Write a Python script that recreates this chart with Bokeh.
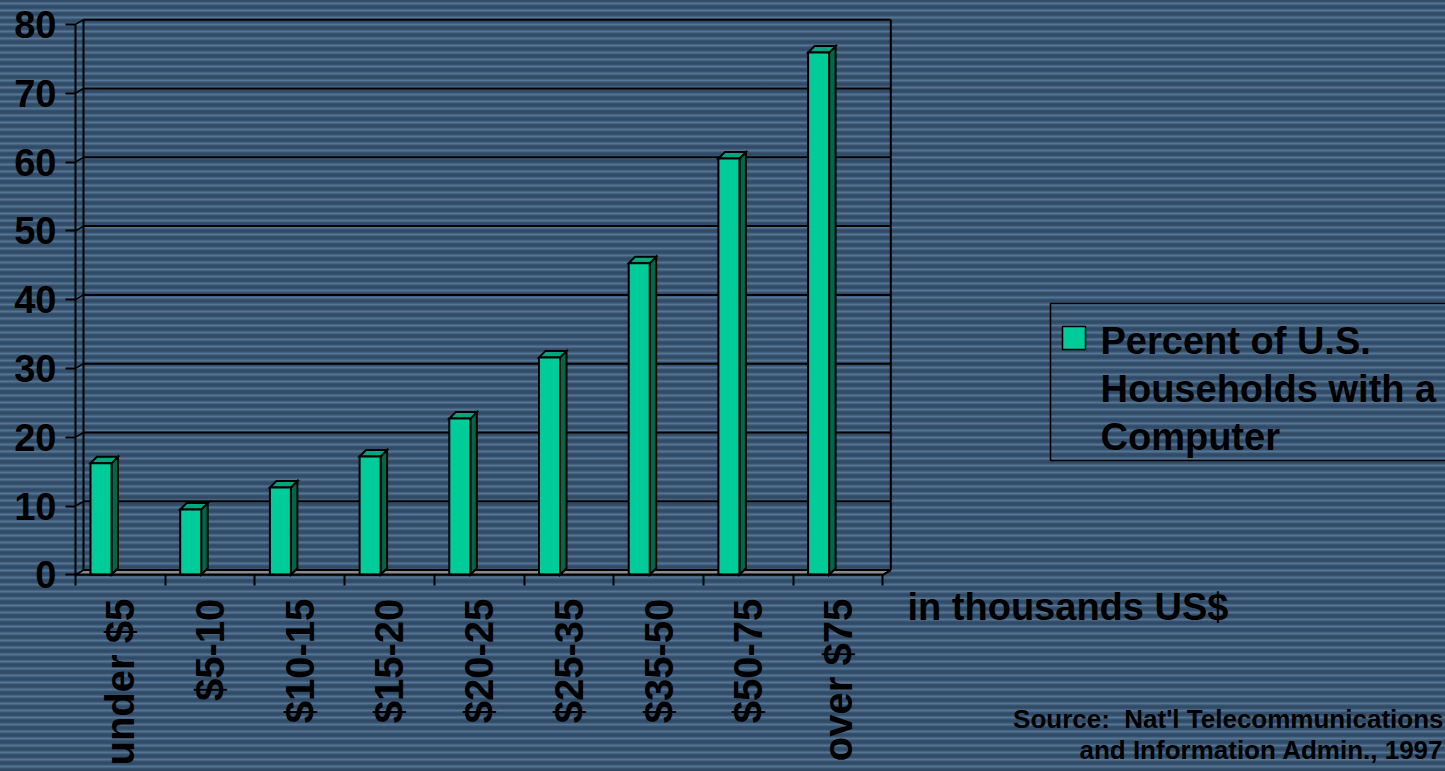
import math

from bokeh.core.properties import value
from bokeh.embed import file_html
from bokeh.models import FixedTicker, Range1d
from bokeh.plotting import figure
from bokeh.resources import INLINE

# ---- data -------------------------------------------------------------
categories = ["under $5", "$5-10", "$10-15", "$15-20", "$20-25",
              "$25-35", "$35-50", "$50-75", "over $75"]
percent_with_computer = [16.2, 9.5, 12.7, 17.2, 22.7, 31.6, 45.3, 60.5, 75.9]
y_ticks = [0, 10, 20, 30, 40, 50, 60, 70, 80]
series_lines = ["Percent of U.S.", "Households with a", "Computer"]
x_note = "in thousands US$"
source_lines = ["Source:\u00a0 Nat'l Telecommunications",
                "and Information Admin., 1997"]

# ---- layout constants (pixels) ---------------------------------------
W, H = 1445, 771
X0_PX, Y0_PX = 75.0, 574.3      # where the two axes cross
PX_PER_CAT = 89.7               # width of one income bracket
PX_PER_UNIT = 6.88              # pixels per percentage point

FONT = value("Liberation Sans")
FRONT, SIDE, TOP = "#00CC99", "#00664C", "#00A67D"


def gx(px):
    """page x pixel -> data x"""
    return (px - X0_PX) / PX_PER_CAT


def gy(py):
    """page y pixel (from top) -> data y"""
    return (Y0_PX - py) / PX_PER_UNIT


def baseline(py, size):
    """data y for a text whose baseline should sit at page pixel py"""
    return gy(py - 0.34 * size)


p = figure(width=W, height=H,
           x_range=Range1d(gx(0), gx(W)), y_range=Range1d(gy(H), gy(0)),
           min_border=0, toolbar_location=None, output_backend="svg")
p.grid.visible = False
p.outline_line_color = None
p.background_fill_alpha = 0
p.border_fill_alpha = 0
p.styles = {
    "background": "repeating-linear-gradient(180deg, #2e4862 0px, #36526e 1.5px, "
                  "#557594 3.5px, #36526e 5.5px, #2e4862 7px)"
}

n = len(categories)
top_val = y_ticks[-1]

# ---- 3-D wall and floor ------------------------------------------------
wdx, wdy = 8 / PX_PER_CAT, 4.7 / PX_PER_UNIT
p.patch([0, n, n + wdx, wdx], [0, 0, wdy, wdy],
        fill_color="#8C8C8C", line_color="black", line_width=1.5)
p.segment(x0=[wdx] * len(y_ticks), y0=[t + wdy for t in y_ticks],
          x1=[n + wdx] * len(y_ticks), y1=[t + wdy for t in y_ticks],
          line_color="black", line_width=2)
p.segment(x0=[0] * len(y_ticks), y0=y_ticks,
          x1=[wdx] * len(y_ticks), y1=[t + wdy for t in y_ticks],
          line_color="black", line_width=1.5)
p.segment(x0=[wdx, n + wdx, n], y0=[wdy, wdy, 0],
          x1=[wdx, n + wdx, n + wdx], y1=[top_val + wdy, top_val + wdy, wdy],
          line_color="black", line_width=2)

# ---- 3-D columns -------------------------------------------------------
bw = 21 / PX_PER_CAT
bdx, bdy = 6.5 / PX_PER_CAT, 6.5 / PX_PER_UNIT
lefts = [i + 15 / PX_PER_CAT for i in range(n)]
rights = [l + bw for l in lefts]

side_xs = [[r, r + bdx, r + bdx, r] for r in rights]
side_ys = [[0, bdy, v + bdy, v] for v in percent_with_computer]
top_xs = [[l, r, r + bdx, l + bdx] for l, r in zip(lefts, rights)]
top_ys = [[v, v, v + bdy, v + bdy] for v in percent_with_computer]

p.patches(side_xs, side_ys, fill_color=SIDE, line_color="black",
          line_width=2, line_join="miter")
p.patches(top_xs, top_ys, fill_color=TOP, line_color="black",
          line_width=2, line_join="miter")
p.quad(left=lefts, right=rights, bottom=0, top=percent_with_computer,
       fill_color=FRONT, line_color="black", line_width=2, line_join="miter")

# ---- axes --------------------------------------------------------------
yax = p.yaxis[0]
yax.fixed_location = 0
yax.bounds = (0, top_val)
yax.ticker = FixedTicker(ticks=y_ticks, minor_ticks=[])
yax.axis_line_width = 2
yax.major_tick_line_width = 2
yax.major_tick_out = 10
yax.major_tick_in = 0
yax.major_label_standoff = 9
yax.major_label_text_font = "Liberation Sans"
yax.major_label_text_font_style = "bold"
yax.major_label_text_font_size = "38px"
yax.major_label_text_color = "black"

xax = p.xaxis[0]
xax.fixed_location = 0
xax.bounds = (0, n)
xax.ticker = FixedTicker(ticks=[i + 0.5 for i in range(n)],
                         minor_ticks=list(range(n + 1)))
xax.major_label_overrides = {i + 0.5: c for i, c in enumerate(categories)}
xax.axis_line_width = 2
xax.major_tick_out = 0
xax.major_tick_in = 0
xax.minor_tick_out = 11
xax.minor_tick_in = 0
xax.minor_tick_line_width = 2
xax.major_label_orientation = math.pi / 2
xax.major_label_standoff = 13
xax.major_label_text_font = "Liberation Sans"
xax.major_label_text_font_style = "bold"
xax.major_label_text_font_size = "40px"
xax.major_label_text_color = "black"

# ---- legend ------------------------------------------------------------
p.quad(left=gx(1050), right=gx(1460), top=gy(303), bottom=gy(460),
       fill_alpha=0, line_color="black", line_width=1.5)
p.quad(left=gx(1062), right=gx(1085), top=gy(326), bottom=gy(349),
       fill_color=FRONT, line_color="black", line_width=1.5)
p.text(x=[gx(1100)] * 3,
       y=[baseline(353, 38), baseline(401, 38), baseline(449, 38)],
       text=series_lines,
       text_font=FONT, text_font_style="bold", text_font_size="38px",
       text_color="black", text_baseline="alphabetic")

# ---- notes -------------------------------------------------------------
p.text(x=[gx(907)], y=[baseline(619, 38)], text=[x_note],
       text_font=FONT, text_font_style="bold", text_font_size="38px",
       text_color="black", text_baseline="alphabetic")
p.text(x=[gx(1443)] * 2, y=[baseline(727, 26), baseline(758, 26)],
       text=source_lines,
       text_font=FONT, text_font_style="bold", text_font_size="26px",
       text_color="black", text_align="right", text_baseline="alphabetic")

open("out.html", "w").write(file_html(p, INLINE))
